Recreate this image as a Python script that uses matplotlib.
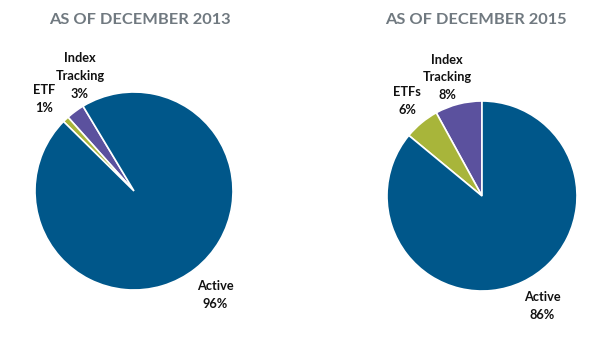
import matplotlib
matplotlib.use("Agg")
import matplotlib.pyplot as plt

W, H = 600, 362

titles = ["AS OF DECEMBER 2013", "AS OF DECEMBER 2015"]
categories_2013 = ["Index\nTracking", "ETF", "Active"]
values_2013 = [3, 1, 96]
categories_2015 = ["Index\nTracking", "ETFs", "Active"]
values_2015 = [8, 6, 86]
colors = ["#5B519E", "#A8B53A", "#00578A"]

FONT = "Lato"

fig = plt.figure(figsize=(W / 100, H / 100), dpi=100)

def make_ax(cx, cy, r):
    ax = fig.add_axes([(cx - r) / W, (H - cy - r) / H, 2 * r / W, 2 * r / H])
    return ax

def px(cx, cy, r, x, y):
    return (x - cx) / r, (cy - y) / r

specs = [
    dict(cx=134, cy=191, r=99, start=121, values=values_2013, cats=categories_2013,
         title_xy=(140, 20),
         label_xy=[(80, 76), (44, 99), (215, 295)]),
    dict(cx=482, cy=196, r=95, start=90, values=values_2015, cats=categories_2015,
         title_xy=(476, 20),
         label_xy=[(447, 77), (407, 101), (542, 306)]),
]

for spec, title in zip(specs, titles):
    ax = make_ax(spec["cx"], spec["cy"], spec["r"])
    ax.pie(spec["values"], colors=colors, startangle=spec["start"], counterclock=True,
           wedgeprops=dict(edgecolor="white", linewidth=1.2))
    ax.set_xlim(-1, 1)
    ax.set_ylim(-1, 1)
    ax.set_aspect("equal")
    ax.axis("off")
    for cat, val, (lx, ly) in zip(spec["cats"], spec["values"], spec["label_xy"]):
        dx, dy = px(spec["cx"], spec["cy"], spec["r"], lx, ly)
        ax.text(dx, dy, f"{cat}\n{val}%", ha="center", va="center", fontsize=9.2,
                fontweight="bold", family=FONT, color="#111111", linespacing=1.55,
                clip_on=False)
    tx, ty = spec["title_xy"]
    fig.text(tx / W, 1 - ty / H, title, ha="center", va="center", fontsize=11.8,
             fontweight="bold", family=FONT, color="#707980")

fig.savefig("out.png", dpi=100, facecolor="white")
